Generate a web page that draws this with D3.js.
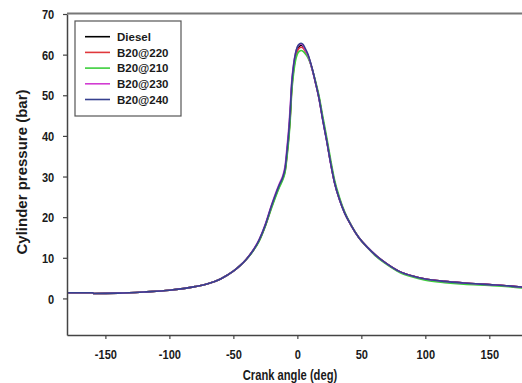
<!DOCTYPE html>
<html>
<head>
<meta charset="utf-8">
<script src="https://cdn.jsdelivr.net/npm/d3@7"></script>
<style>
  html, body { margin: 0; padding: 0; background: #fff; }
  svg { display: block; font-family: "Liberation Sans", Arial, sans-serif; }
</style>
</head>
<body>
<svg id="chart" width="522" height="383"></svg>
<script>
// Crank angle (deg) shared by every series
const angles = [-180,-160,-159,-140,-120,-100,-80,-70,-60,-50,-45,-40,-35,-30,-25,-20,-17,-14,-11,-9.5,-8,-6.5,-5.5,-4.5,-3,-1.5,0,1.5,3,4.5,6,8,10,12,14,17,20,23,26,29,33,37,42,48,55,62,70,80,90,100,115,130,150,165,175,180];

// Cylinder pressure (bar) for each fuel
const diesel = [1.4,1.4,1.2,1.3,1.6,2.0,2.9,3.6,4.8,6.7,8.0,9.6,11.6,14.2,18.0,22.8,25.4,27.8,30.0,31.8,36.0,41.0,45.5,51.5,56.5,59.6,61.2,62.0,62.3,62.0,61.2,60.0,58.2,56.0,53.4,49.2,43.8,38.8,33.4,28.6,24.3,21.0,18.0,15.0,12.5,10.4,8.5,6.6,5.5,4.8,4.2,3.8,3.4,3.1,2.8,2.6];
const b20at220 = [1.4,1.4,1.2,1.3,1.6,2.0,2.9,3.6,4.8,6.7,8.0,9.6,11.6,14.1,17.9,22.6,25.2,27.6,29.8,31.5,35.6,40.6,45.0,51.0,56.0,59.2,60.8,61.6,61.8,61.6,60.9,59.8,58.1,55.9,53.4,49.3,43.9,38.9,33.5,28.7,24.4,21.1,18.0,15.0,12.5,10.4,8.5,6.6,5.5,4.8,4.2,3.8,3.4,3.1,2.8,2.6];
const b20at210 = [1.4,1.4,1.2,1.3,1.6,2.0,2.9,3.6,4.8,6.7,8.0,9.5,11.5,14.0,17.8,22.4,25.0,27.4,29.5,31.2,35.0,39.8,44.2,50.2,55.2,58.4,60.1,60.8,61.0,60.8,60.3,59.4,58.0,56.0,53.7,49.8,44.6,39.6,34.2,29.3,24.8,21.3,18.1,15.0,12.4,10.2,8.3,6.4,5.3,4.5,3.9,3.5,3.2,2.9,2.6,2.4];
const b20at230 = [1.4,1.4,1.2,1.3,1.6,2.0,2.9,3.6,4.8,6.7,8.0,9.6,11.7,14.4,18.3,23.2,25.9,28.3,30.6,32.8,37.5,42.8,47.5,53.0,57.5,60.3,61.8,62.5,62.6,62.2,61.3,60.0,58.2,55.9,53.3,49.0,43.6,38.6,33.2,28.5,24.2,21.0,18.0,15.0,12.5,10.4,8.5,6.6,5.5,4.8,4.2,3.8,3.4,3.1,2.8,2.6];
const b20at240 = [1.4,1.4,1.2,1.3,1.6,2.0,2.9,3.6,4.8,6.7,8.0,9.6,11.6,14.3,18.1,23.0,25.6,28.0,30.2,32.2,36.6,41.8,46.5,52.3,57.2,60.2,61.9,62.6,62.8,62.5,61.6,60.3,58.4,56.1,53.4,49.1,43.7,38.7,33.3,28.6,24.3,21.0,18.0,15.0,12.5,10.4,8.5,6.6,5.5,4.8,4.2,3.8,3.4,3.1,2.8,2.6];

const seriesNames = ["Diesel", "B20@220", "B20@210", "B20@230", "B20@240"];
const seriesValues = [diesel, b20at220, b20at210, b20at230, b20at240];
const seriesColors = ["#000000", "#e0383c", "#3ccf3c", "#d23cd2", "#36408f"];

const xTicks = [-150, -100, -50, 0, 50, 100, 150];
const yTicks = [0, 10, 20, 30, 40, 50, 60, 70];

const svg = d3.select("#chart");

const x = d3.scaleLinear().domain([-180, 180]).range([67, 527.7]);
const y = d3.scaleLinear().domain([-9, 70]).range([335, 14]);

// plot frame (right edge runs past the canvas)
svg.append("line")
  .attr("x1", x(-180)).attr("x2", x(180))
  .attr("y1", y(70) - 0.5).attr("y2", y(70) - 0.5)
  .attr("stroke", "#777").attr("stroke-width", 2);

// pressure traces
const line = d3.line()
  .x((d, i) => x(angles[i]))
  .y(d => y(d))
  .curve(d3.curveMonotoneX);

svg.append("g")
  .selectAll("path")
  .data(seriesValues)
  .join("path")
  .attr("d", d => line(d))
  .attr("fill", "none")
  .attr("stroke", (d, i) => seriesColors[i])
  .attr("stroke-width", 1.6)
  .attr("stroke-linejoin", "round");

// x axis
const xAxis = svg.append("g")
  .attr("transform", `translate(0,${y(-9)})`)
  .call(d3.axisBottom(x).tickValues(xTicks).tickSize(4).tickSizeOuter(0).tickFormat(d3.format("d")));
xAxis.select(".domain").attr("stroke", "#444").attr("stroke-width", 1.5);
xAxis.selectAll(".tick line").attr("stroke", "#444").attr("stroke-width", 1.2);
xAxis.selectAll(".tick text")
  .attr("y", 24).attr("dy", null)
  .attr("transform", "scale(0.85,1)")
  .attr("font-size", 13).attr("font-weight", "bold").attr("fill", "#1a1a1a")
  .text(d => d < 0 ? "-" + Math.abs(d) : d);

// y axis
const yAxis = svg.append("g")
  .attr("transform", `translate(${x(-180)},0)`)
  .call(d3.axisLeft(y).tickValues(yTicks).tickSize(4).tickSizeOuter(0).tickFormat(d3.format("d")));
yAxis.select(".domain").attr("stroke", "#444").attr("stroke-width", 1.5);
yAxis.selectAll(".tick line").attr("stroke", "#444").attr("stroke-width", 1.2);
yAxis.selectAll(".tick text")
  .attr("x", -15).attr("dy", "0.36em")
  .attr("transform", "scale(0.85,1)")
  .attr("font-size", 13).attr("font-weight", "bold").attr("fill", "#1a1a1a");

// axis titles
svg.append("g")
  .attr("transform", "translate(290,380) scale(0.8,1)")
  .append("text")
  .attr("text-anchor", "middle")
  .attr("font-size", 14).attr("font-weight", "bold").attr("fill", "#1a1a1a")
  .text("Crank angle (deg)");

svg.append("text")
  .attr("transform", "translate(27,172) rotate(-90)")
  .attr("text-anchor", "middle")
  .attr("font-size", 15).attr("font-weight", "bold").attr("fill", "#1a1a1a")
  .text("Cylinder pressure (bar)");

// legend
const legend = svg.append("g");
legend.append("rect")
  .attr("x", 75).attr("y", 21).attr("width", 106).attr("height", 95)
  .attr("fill", "#fff").attr("stroke", "#555").attr("stroke-width", 1.2);
const rows = legend.selectAll("g.row")
  .data(seriesNames)
  .join("g")
  .attr("class", "row")
  .attr("transform", (d, i) => `translate(0,${36.7 + i * 15.7})`);
rows.append("line")
  .attr("x1", 85).attr("x2", 110)
  .attr("stroke", (d, i) => seriesColors[i]).attr("stroke-width", 1.6);
rows.append("text")
  .attr("x", 117).attr("dy", "0.36em")
  .attr("font-size", 11.5).attr("font-weight", "bold").attr("fill", "#1a1a1a")
  .text(d => d);
</script>
</body>
</html>
